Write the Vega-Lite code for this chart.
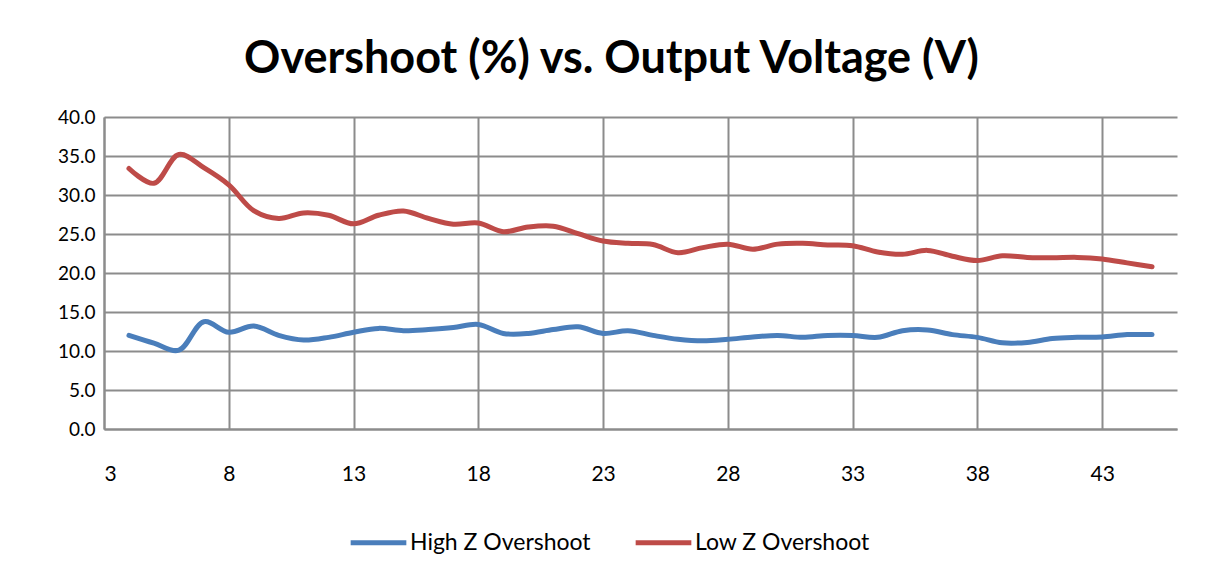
{
  "$schema": "https://vega.github.io/schema/vega-lite/v6.json",
  "autosize": "none",
  "width": 1073,
  "height": 312,
  "padding": {"left": 104, "top": 117, "right": 43, "bottom": 150},
  "background": "white",
  "title": {"text": "Overshoot (%) vs. Output Voltage (V)", "font": "Lato", "fontSize": 45, "fontWeight": "bold", "color": "black", "anchor": "middle", "dx": -29, "offset": 26},
  "config": {"view": {"stroke": null}},
  "datasets": {
    "overshoot": [
      {"V": 4, "series": "High Z Overshoot", "pct": 12.0},
      {"V": 5, "series": "High Z Overshoot", "pct": 11.0},
      {"V": 6, "series": "High Z Overshoot", "pct": 10.1},
      {"V": 7, "series": "High Z Overshoot", "pct": 13.75},
      {"V": 8, "series": "High Z Overshoot", "pct": 12.4},
      {"V": 9, "series": "High Z Overshoot", "pct": 13.2},
      {"V": 10, "series": "High Z Overshoot", "pct": 12.0},
      {"V": 11, "series": "High Z Overshoot", "pct": 11.4},
      {"V": 12, "series": "High Z Overshoot", "pct": 11.75},
      {"V": 13, "series": "High Z Overshoot", "pct": 12.4},
      {"V": 14, "series": "High Z Overshoot", "pct": 12.9},
      {"V": 15, "series": "High Z Overshoot", "pct": 12.6},
      {"V": 16, "series": "High Z Overshoot", "pct": 12.75},
      {"V": 17, "series": "High Z Overshoot", "pct": 13.0},
      {"V": 18, "series": "High Z Overshoot", "pct": 13.4},
      {"V": 19, "series": "High Z Overshoot", "pct": 12.25},
      {"V": 20, "series": "High Z Overshoot", "pct": 12.25},
      {"V": 21, "series": "High Z Overshoot", "pct": 12.75},
      {"V": 22, "series": "High Z Overshoot", "pct": 13.1},
      {"V": 23, "series": "High Z Overshoot", "pct": 12.25},
      {"V": 24, "series": "High Z Overshoot", "pct": 12.6},
      {"V": 25, "series": "High Z Overshoot", "pct": 12.0},
      {"V": 26, "series": "High Z Overshoot", "pct": 11.5},
      {"V": 27, "series": "High Z Overshoot", "pct": 11.3},
      {"V": 28, "series": "High Z Overshoot", "pct": 11.5},
      {"V": 29, "series": "High Z Overshoot", "pct": 11.8},
      {"V": 30, "series": "High Z Overshoot", "pct": 12.0},
      {"V": 31, "series": "High Z Overshoot", "pct": 11.75},
      {"V": 32, "series": "High Z Overshoot", "pct": 12.0},
      {"V": 33, "series": "High Z Overshoot", "pct": 12.0},
      {"V": 34, "series": "High Z Overshoot", "pct": 11.75},
      {"V": 35, "series": "High Z Overshoot", "pct": 12.6},
      {"V": 36, "series": "High Z Overshoot", "pct": 12.7},
      {"V": 37, "series": "High Z Overshoot", "pct": 12.1},
      {"V": 38, "series": "High Z Overshoot", "pct": 11.75},
      {"V": 39, "series": "High Z Overshoot", "pct": 11.05},
      {"V": 40, "series": "High Z Overshoot", "pct": 11.1},
      {"V": 41, "series": "High Z Overshoot", "pct": 11.6},
      {"V": 42, "series": "High Z Overshoot", "pct": 11.75},
      {"V": 43, "series": "High Z Overshoot", "pct": 11.8},
      {"V": 44, "series": "High Z Overshoot", "pct": 12.1},
      {"V": 45, "series": "High Z Overshoot", "pct": 12.1},
      {"V": 4, "series": "Low Z Overshoot", "pct": 33.4},
      {"V": 5, "series": "Low Z Overshoot", "pct": 31.5},
      {"V": 6, "series": "Low Z Overshoot", "pct": 35.2},
      {"V": 7, "series": "Low Z Overshoot", "pct": 33.5},
      {"V": 8, "series": "Low Z Overshoot", "pct": 31.3},
      {"V": 9, "series": "Low Z Overshoot", "pct": 28.0},
      {"V": 10, "series": "Low Z Overshoot", "pct": 27.0},
      {"V": 11, "series": "Low Z Overshoot", "pct": 27.7},
      {"V": 12, "series": "Low Z Overshoot", "pct": 27.4},
      {"V": 13, "series": "Low Z Overshoot", "pct": 26.3},
      {"V": 14, "series": "Low Z Overshoot", "pct": 27.4},
      {"V": 15, "series": "Low Z Overshoot", "pct": 27.95},
      {"V": 16, "series": "Low Z Overshoot", "pct": 27.0},
      {"V": 17, "series": "Low Z Overshoot", "pct": 26.25},
      {"V": 18, "series": "Low Z Overshoot", "pct": 26.4},
      {"V": 19, "series": "Low Z Overshoot", "pct": 25.3},
      {"V": 20, "series": "Low Z Overshoot", "pct": 25.9},
      {"V": 21, "series": "Low Z Overshoot", "pct": 26.0},
      {"V": 22, "series": "Low Z Overshoot", "pct": 25.05},
      {"V": 23, "series": "Low Z Overshoot", "pct": 24.1},
      {"V": 24, "series": "Low Z Overshoot", "pct": 23.8},
      {"V": 25, "series": "Low Z Overshoot", "pct": 23.65},
      {"V": 26, "series": "Low Z Overshoot", "pct": 22.6},
      {"V": 27, "series": "Low Z Overshoot", "pct": 23.25},
      {"V": 28, "series": "Low Z Overshoot", "pct": 23.7},
      {"V": 29, "series": "Low Z Overshoot", "pct": 23.05},
      {"V": 30, "series": "Low Z Overshoot", "pct": 23.7},
      {"V": 31, "series": "Low Z Overshoot", "pct": 23.8},
      {"V": 32, "series": "Low Z Overshoot", "pct": 23.6},
      {"V": 33, "series": "Low Z Overshoot", "pct": 23.5},
      {"V": 34, "series": "Low Z Overshoot", "pct": 22.7},
      {"V": 35, "series": "Low Z Overshoot", "pct": 22.4},
      {"V": 36, "series": "Low Z Overshoot", "pct": 22.9},
      {"V": 37, "series": "Low Z Overshoot", "pct": 22.15},
      {"V": 38, "series": "Low Z Overshoot", "pct": 21.6},
      {"V": 39, "series": "Low Z Overshoot", "pct": 22.2},
      {"V": 40, "series": "Low Z Overshoot", "pct": 22.0},
      {"V": 41, "series": "Low Z Overshoot", "pct": 21.95},
      {"V": 42, "series": "Low Z Overshoot", "pct": 22.0},
      {"V": 43, "series": "Low Z Overshoot", "pct": 21.8},
      {"V": 44, "series": "Low Z Overshoot", "pct": 21.3},
      {"V": 45, "series": "Low Z Overshoot", "pct": 20.8}
    ]
  },
  "data": {"name": "overshoot"},
  "mark": {"type": "line", "strokeWidth": 5, "interpolate": "catmull-rom", "strokeCap": "round"},
  "encoding": {
    "x": {
      "field": "V", "type": "quantitative",
      "scale": {"domain": [3, 46], "nice": false, "zero": false},
      "axis": {
        "title": null, "values": [3, 8, 13, 18, 23, 28, 33, 38, 43],
        "grid": true, "gridColor": "#8c8c8c", "gridWidth": 2,
        "domainColor": "#8c8c8c", "domainWidth": 2,
        "ticks": false, "labelPadding": 34,
        "labelFont": "Lato", "labelFontSize": 21, "labelColor": "black"
      }
    },
    "y": {
      "field": "pct", "type": "quantitative",
      "scale": {"domain": [0, 40], "nice": false},
      "axis": {
        "title": null, "values": [0, 5, 10, 15, 20, 25, 30, 35, 40], "format": ".1f",
        "grid": true, "gridColor": "#8c8c8c", "gridWidth": 2,
        "domainColor": "#8c8c8c", "domainWidth": 2,
        "ticks": false, "labelPadding": 9,
        "labelFont": "Lato", "labelFontSize": 19, "labelColor": "black"
      }
    },
    "color": {
      "field": "series", "type": "nominal",
      "scale": {"domain": ["High Z Overshoot", "Low Z Overshoot"], "range": ["#4A7EBB", "#BE4B48"]},
      "legend": {
        "title": null, "orient": "none", "direction": "horizontal",
        "legendX": 244, "legendY": 395,
        "symbolType": "stroke", "symbolStrokeWidth": 5, "symbolSize": 3100,
        "labelFont": "Lato", "labelFontSize": 23, "labelColor": "black",
        "labelLimit": 400, "labelOffset": 1, "columnPadding": 34
      }
    }
  }
}
